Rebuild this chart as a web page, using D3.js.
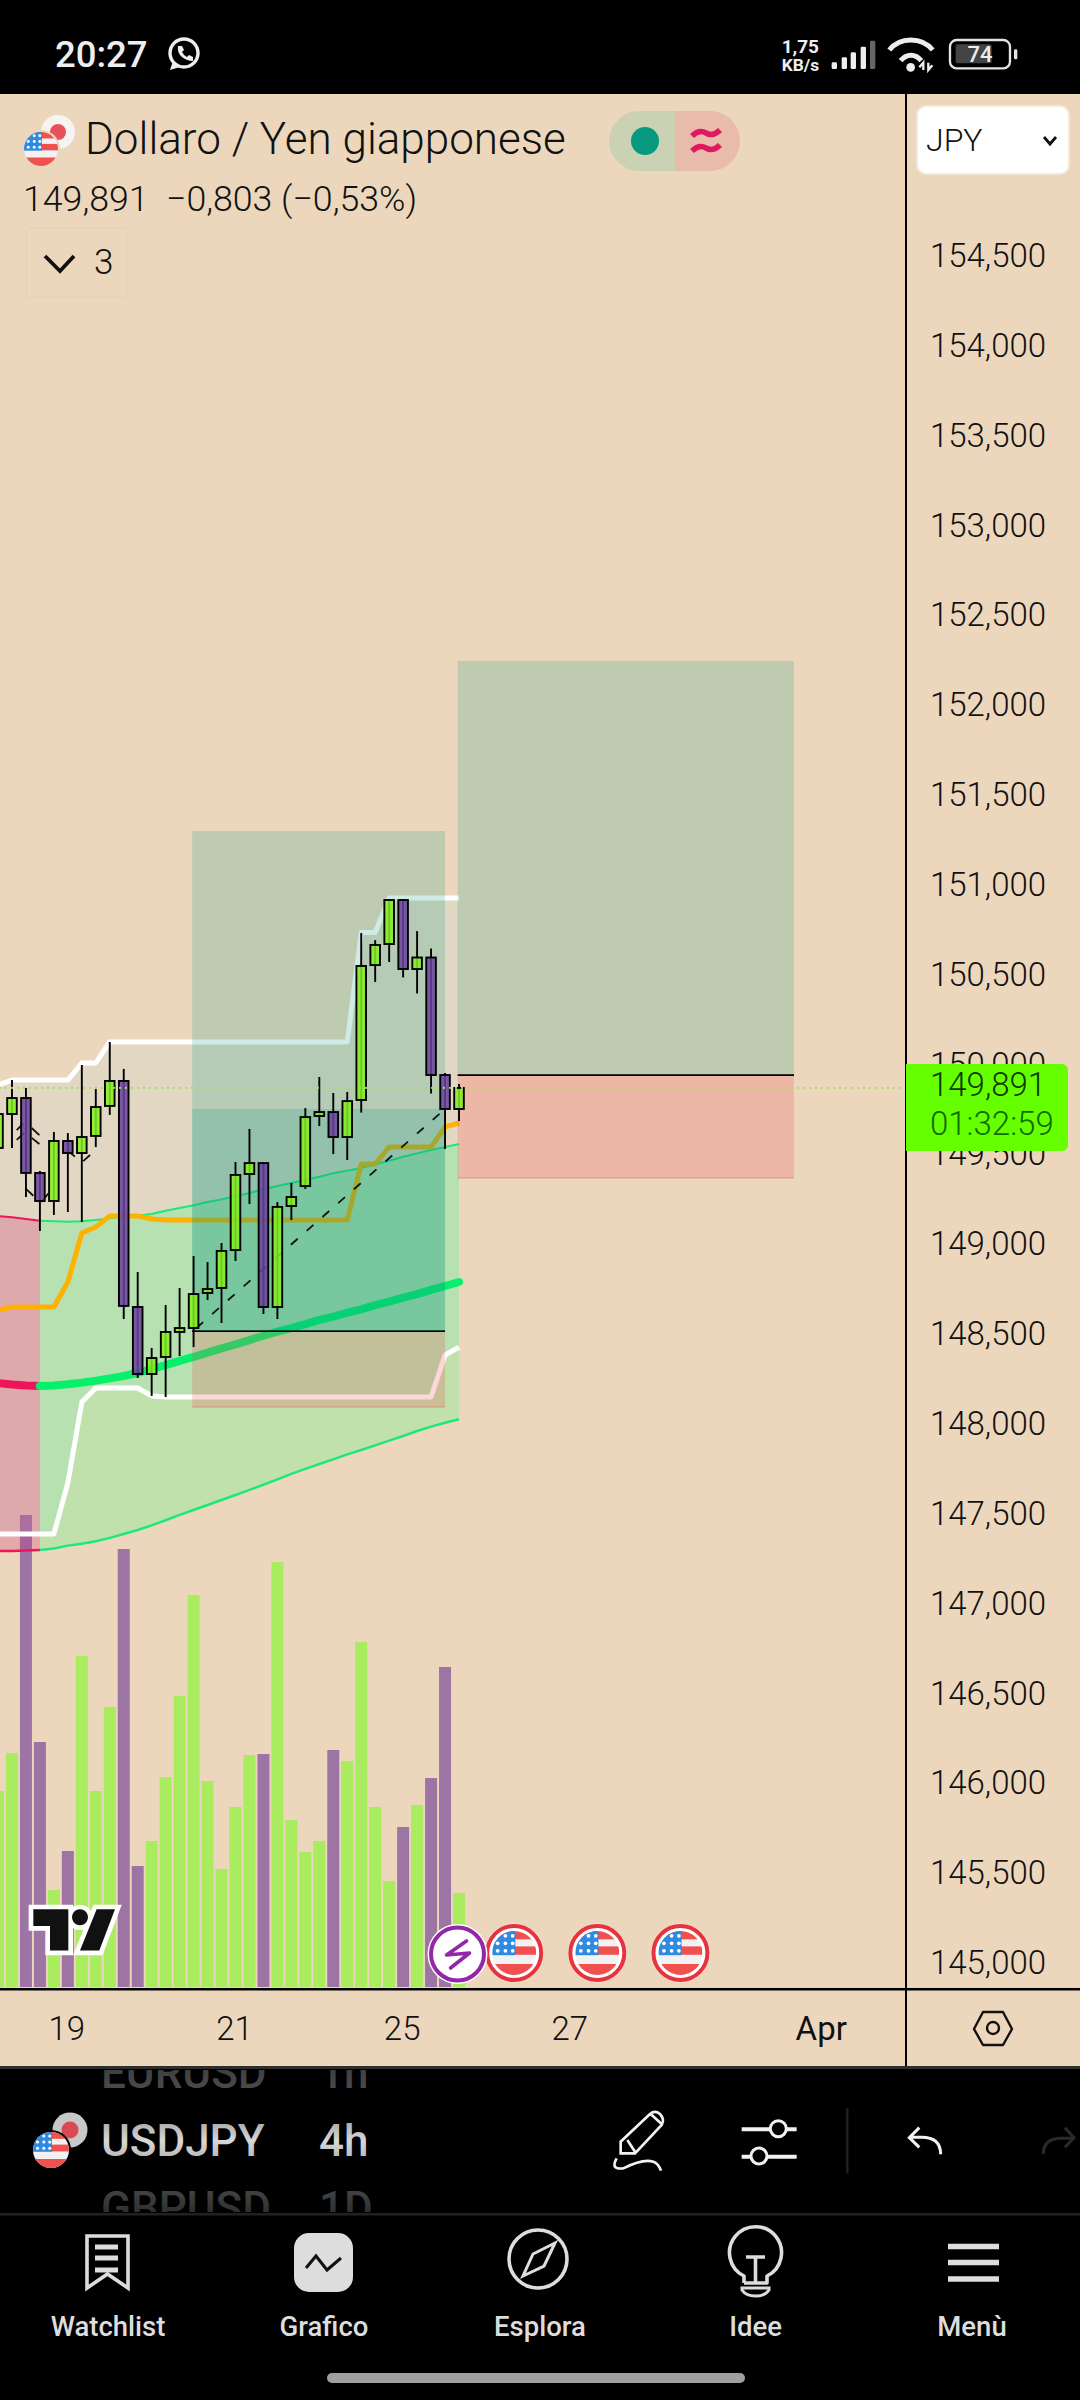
<!DOCTYPE html>
<html>
<head>
<meta charset="utf-8">
<script src="https://cdn.jsdelivr.net/npm/d3@7"></script>
<style>
  html, body { margin: 0; padding: 0; background: #000; }
  svg { display: block; font-family: Roboto, sans-serif; }
</style>
</head>
<body>
<div id="chart"></div>
<script>
// 4h bars
const opens = [149.557,149.746,149.835,149.418,149.262,149.596,149.529,149.624,149.791,149.930,148.672,148.299,148.394,148.533,148.555,148.750,148.778,148.989,149.412,149.473,148.672,149.234,149.345,149.735,149.757,149.618,149.824,150.575,150.692,150.937,150.553,150.617,149.963,149.774];
const highs = [149.891,149.935,149.891,149.429,149.646,149.640,150.019,149.885,150.147,149.997,148.867,148.444,148.683,148.778,148.956,148.922,149.028,149.479,149.663,149.473,149.256,149.362,149.779,149.952,149.863,149.869,150.753,150.714,150.942,150.937,150.764,150.667,149.974,149.913];
const lows = [149.535,149.557,149.284,149.095,149.184,149.201,149.145,149.562,149.741,148.605,148.277,148.177,148.171,148.399,148.449,148.711,148.583,148.928,149.245,148.633,148.605,149.156,149.329,149.679,149.523,149.490,149.754,150.481,150.592,150.506,150.417,149.860,149.551,149.707];
const closes = [149.746,149.835,149.418,149.262,149.596,149.529,149.618,149.785,149.930,148.678,148.299,148.388,148.533,148.555,148.744,148.772,148.984,149.407,149.473,148.672,149.229,149.284,149.729,149.757,149.618,149.818,150.570,150.687,150.937,150.553,150.617,149.963,149.774,149.891];
const volumes = [196,234,472,245,97,136,331,196,280,438,121,146,210,291,392,206,118,180,232,233,425,167,135,146,237,226,345,180,106,160,182,209,320,94];

// indicators
const channelUpper = [149.907,149.935,149.935,149.935,149.935,149.935,150.030,150.030,150.147,150.147,150.147,150.147,150.147,150.147,150.147,150.147,150.147,150.147,150.147,150.147,150.147,150.147,150.147,150.147,150.147,150.147,150.756,150.756,150.948,150.948,150.948,150.948,150.948,150.948];
const channelLower = [147.409,147.409,147.409,147.409,147.409,147.693,148.143,148.221,148.221,148.221,148.221,148.177,148.171,148.171,148.171,148.171,148.171,148.171,148.171,148.171,148.171,148.171,148.171,148.171,148.171,148.171,148.171,148.171,148.171,148.171,148.171,148.171,148.405,148.449];
const orangeLine = [148.655,148.672,148.672,148.672,148.672,148.811,149.084,149.117,149.179,149.179,149.179,149.162,149.156,149.156,149.156,149.156,149.156,149.156,149.156,149.156,149.156,149.156,149.156,149.156,149.156,149.156,149.468,149.468,149.562,149.562,149.562,149.562,149.674,149.696];
const maLine = [148.249,148.241,148.235,148.232,148.235,148.242,148.251,148.262,148.275,148.288,148.306,148.327,148.349,148.372,148.394,148.418,148.442,148.464,148.488,148.512,148.535,148.554,148.577,148.600,148.618,148.640,148.659,148.682,148.702,148.724,148.744,148.767,148.789,148.811];
const bandUpper = [149.178,149.171,149.162,149.152,149.149,149.147,149.149,149.156,149.166,149.175,149.180,149.190,149.208,149.223,149.238,149.256,149.271,149.288,149.306,149.327,149.345,149.362,149.379,149.397,149.416,149.431,149.446,149.466,149.486,149.508,149.527,149.546,149.562,149.579];
const bandLower = [147.314,147.314,147.317,147.320,147.328,147.344,147.355,147.368,147.387,147.409,147.431,147.457,147.485,147.515,147.542,147.570,147.598,147.626,147.654,147.683,147.713,147.743,147.771,147.798,147.824,147.852,147.876,147.902,147.928,147.954,147.982,148.006,148.028,148.047];
const trendFlipBar = 3;

// drawings: long positions [left bar, right bar, target, entry, stop]
const positions = [
  [13.9, 32.0, 151.321, 148.538, 148.116],
  [32.9, 56.98, 152.267, 149.963, 149.390]
];
const innerTarget = [13.9, 32.0, 149.774, 148.538];
const diagonal = [[14.2, 148.555], [32.0, 149.774]];
const lastPrice = 149.891;
// little arrows and dashes of the old drawing on the left [bar, price, bar, price]
const oldMarks = [
  [1.34,149.657,1.81,149.694],[1.34,149.602,1.86,149.640],[2.41,149.668,2.96,149.629],[2.41,149.613,2.96,149.579],
  [2.0,149.329,2.53,149.291],[3.13,149.257,3.6,149.304],[4.92,149.546,5.51,149.509],[6.1,149.484,6.59,149.518]
];

// axes
const priceTicks = [145,145.5,146,146.5,147,147.5,148,148.5,149,149.5,150,150.5,151,151.5,152,152.5,153,153.5,154,154.5];
const timeTicks = [5, 17, 29, 41, 59];
const timeLabels = ['19', '21', '25', '27', 'Apr'];
const eventBars = [36.95, 42.9, 48.85];
const flashBar = 33;

const C = {
  bg: '#ecd7bc', up: '#84f020', down: '#6a429c', volUp: '#a9ec5f', volDown: '#9c75a5',
  orange: '#ffb100', maUp: '#07f06c', maDown: '#f0145a', thinUp: '#1ee87a'
};

const svg = d3.select('#chart').append('svg').attr('width', 1080).attr('height', 2400);
const defs = svg.append('defs');

const x = d3.scaleLinear().domain([0, 60]).range([-2, 836.2]);
const y = d3.scaleLinear().domain([145, 154.5]).range([1966.8, 259.8]);
const vol = d3.scaleLinear().domain([0, 472]).range([1987, 1515]);
const bars = d3.range(closes.length);

svg.append('rect').attr('width', 1080).attr('height', 2400).attr('fill', '#000');
svg.append('rect').attr('y', 94).attr('width', 1080).attr('height', 1972).attr('fill', C.bg);

defs.append('clipPath').attr('id', 'plot').append('rect').attr('y', 94).attr('width', 906).attr('height', 1895);
const plot = svg.append('g').attr('clip-path', 'url(#plot)');

// volume
plot.selectAll('.vol').data(bars).join('rect')
  .attr('x', i => x(i) - 6).attr('width', 12)
  .attr('y', i => vol(volumes[i])).attr('height', i => vol(0) - vol(volumes[i]))
  .attr('fill', i => closes[i] >= opens[i] ? C.volUp : C.volDown);

// fills
const channelArea = d3.area().x(i => x(i)).y0(i => y(channelUpper[i])).y1(i => y(channelLower[i]));
plot.append('path').attr('d', channelArea(bars)).attr('fill', 'rgb(169,215,235)').attr('fill-opacity', 0.16);
const bandArea = d3.area().x(i => x(i)).y0(i => y(bandUpper[i])).y1(i => y(bandLower[i]));
plot.append('path').attr('d', bandArea(bars.slice(0, trendFlipBar + 1))).attr('fill', 'rgb(212,44,116)').attr('fill-opacity', 0.27);
plot.append('path').attr('d', bandArea(bars.slice(trendFlipBar))).attr('fill', 'rgb(60,255,124)').attr('fill-opacity', 0.25);

function drawLine(values, from, to, color, width, cap) {
  const line = d3.line().x(i => x(i)).y(i => y(values[i]));
  plot.append('path').attr('d', line(bars.slice(from, to + 1)))
    .attr('fill', 'none').attr('stroke', color).attr('stroke-width', width)
    .attr('stroke-linejoin', 'round').attr('stroke-linecap', cap || 'butt');
}
const last = bars.length - 1;
drawLine(channelUpper, 0, last, '#fff', 5);
drawLine(channelLower, 0, last, '#fff', 5);
drawLine(bandUpper, 0, trendFlipBar, C.maDown, 2);
drawLine(bandUpper, trendFlipBar, last, C.thinUp, 2);
drawLine(bandLower, 0, trendFlipBar, C.maDown, 2.5);
drawLine(bandLower, trendFlipBar, last, C.thinUp, 2.5);
drawLine(orangeLine, 0, last, C.orange, 5);
drawLine(maLine, 0, trendFlipBar, C.maDown, 8);
drawLine(maLine, trendFlipBar, last, C.maUp, 8, 'round');

// position tools tint the lines but stay under the candles
positions.forEach(p => {
  const left = x(p[0]), w = x(p[1]) - left;
  plot.append('rect').attr('x', left).attr('width', w).attr('y', y(p[2])).attr('height', y(p[3]) - y(p[2]))
    .attr('fill', 'rgb(8,153,129)').attr('fill-opacity', 0.2);
  plot.append('rect').attr('x', left).attr('width', w).attr('y', y(p[3])).attr('height', y(p[4]) - y(p[3]))
    .attr('fill', 'rgb(242,54,69)').attr('fill-opacity', 0.2);
  plot.append('line').attr('x1', left).attr('x2', left + w).attr('y1', y(p[4])).attr('y2', y(p[4]))
    .attr('stroke', 'rgb(242,54,69)').attr('stroke-opacity', 0.25).attr('stroke-width', 1.5);
  plot.append('line').attr('x1', left).attr('x2', left + w).attr('y1', y(p[3])).attr('y2', y(p[3]))
    .attr('stroke', '#000').attr('stroke-width', 1.8);
});
plot.append('rect').attr('x', x(innerTarget[0])).attr('width', x(innerTarget[1]) - x(innerTarget[0]))
  .attr('y', y(innerTarget[2])).attr('height', y(innerTarget[3]) - y(innerTarget[2]))
  .attr('fill', 'rgb(8,153,129)').attr('fill-opacity', 0.2);

// dashed drawing under the candles
plot.selectAll('.old').data(oldMarks).join('line')
  .attr('x1', d => x(d[0])).attr('y1', d => y(d[1])).attr('x2', d => x(d[2])).attr('y2', d => y(d[3]))
  .attr('stroke', '#111').attr('stroke-width', 1.8);
plot.append('line')
  .attr('x1', x(diagonal[0][0])).attr('y1', y(diagonal[0][1]))
  .attr('x2', x(diagonal[1][0])).attr('y2', y(diagonal[1][1]))
  .attr('stroke', '#111').attr('stroke-width', 1.8).attr('stroke-dasharray', '9 12');

// candles
plot.selectAll('.wick').data(bars).join('line')
  .attr('x1', i => x(i)).attr('x2', i => x(i))
  .attr('y1', i => y(highs[i])).attr('y2', i => y(lows[i]))
  .attr('stroke', '#000').attr('stroke-width', 1.9);
plot.selectAll('.body').data(bars).join('rect')
  .attr('x', i => x(i) - 4.8).attr('width', 9.6)
  .attr('y', i => y(Math.max(opens[i], closes[i])))
  .attr('height', i => Math.abs(y(opens[i]) - y(closes[i])))
  .attr('fill', i => closes[i] >= opens[i] ? C.up : C.down)
  .attr('fill-opacity', 0.85)
  .attr('stroke', '#000').attr('stroke-width', 1.9);

// last price line
plot.append('line').attr('x1', 0).attr('x2', 903).attr('y1', y(lastPrice)).attr('y2', y(lastPrice))
  .attr('stroke', '#a3e05c').attr('stroke-width', 2.2).attr('stroke-linecap', 'round').attr('stroke-dasharray', '0 6');

// tv logo
const logo = plot.append('g').attr('transform', 'translate(0,1520) scale(0.3333)');
logo.append('path').attr('d', 'M100 1168H205V1292H150V1218H100ZM290 1168H345L298 1292H240Z M240 1168 a24 24 0 1 0 .01 0Z')
  .attr('fill', '#111').attr('stroke', '#fff').attr('stroke-width', 28).attr('paint-order', 'stroke').attr('stroke-linejoin', 'miter');

function usFlag(g, id, cx, cy, r) {
  defs.append('clipPath').attr('id', id).append('circle').attr('cx', cx).attr('cy', cy).attr('r', r);
  const f = g.append('g').attr('clip-path', 'url(#' + id + ')');
  f.append('rect').attr('x', cx - r).attr('y', cy - r).attr('width', 2 * r).attr('height', 2 * r).attr('fill', '#f2f2f2');
  f.append('rect').attr('x', cx - r).attr('y', cy - r).attr('width', 2 * r).attr('height', 0.38 * r).attr('fill', '#f0514f');
  f.append('rect').attr('x', cx).attr('y', cy - 0.3 * r).attr('width', r).attr('height', 0.38 * r).attr('fill', '#f0514f');
  f.append('rect').attr('x', cx - r).attr('y', cy + 0.5 * r).attr('width', 2 * r).attr('height', 0.6 * r).attr('fill', '#f0514f');
  f.append('rect').attr('x', cx - r).attr('y', cy - r).attr('width', r * 1.05).attr('height', r * 1.1).attr('fill', '#2f8ae0');
  [-0.78, -0.44, -0.1].forEach(dy => [-0.75, -0.4, -0.07].forEach(dx => {
    f.append('circle').attr('cx', cx + dx * r).attr('cy', cy + dy * r).attr('r', r * 0.085).attr('fill', '#fff');
  }));
}

// event markers
eventBars.forEach((b, k) => {
  const cx = x(b), cy = 1953;
  const g = plot.append('g');
  g.append('circle').attr('cx', cx).attr('cy', cy).attr('r', 29.5).attr('fill', '#f7eee0');
  g.append('circle').attr('cx', cx).attr('cy', cy).attr('r', 27).attr('fill', '#fff').attr('stroke', '#e8333f').attr('stroke-width', 4);
  usFlag(g, 'ev' + k, cx, cy, 22);
});
const fx = x(flashBar) - 1.5, flash = plot.append('g').attr('transform', 'translate(' + fx + ',1954)');
flash.append('circle').attr('r', 30).attr('fill', '#fff');
flash.append('circle').attr('r', 26.5).attr('fill', '#fff').attr('stroke', '#9427a8').attr('stroke-width', 4);
flash.append('path').attr('d', 'M9 -13L-11 1L12 -1L-7 14').attr('fill', 'none').attr('stroke', '#9427a8').attr('stroke-width', 3.6).attr('stroke-linejoin', 'round').attr('stroke-linecap', 'round');

// price axis
const fmt = d3.format('.3f');
const yAxis = svg.append('g').attr('transform', 'translate(988,0)')
  .call(d3.axisRight(y).tickValues(priceTicks).tickSize(0).tickFormat(d => fmt(d).replace('.', ',')));
yAxis.select('.domain').remove();
yAxis.selectAll('text').attr('x', 0).attr('y', -3.8).attr('text-anchor', 'middle')
  .attr('font-family', 'Roboto').attr('font-size', 33).attr('font-weight', 300).attr('fill', '#111');

// time axis
const xAxis = svg.append('g').attr('transform', 'translate(-1.5,2028)')
  .call(d3.axisBottom(x).tickValues(timeTicks).tickSize(0).tickFormat((d, i) => timeLabels[i]));
xAxis.select('.domain').remove();
xAxis.selectAll('text').attr('y', 0).attr('dy', '0.36em')
  .attr('font-family', 'Roboto').attr('font-size', 33).attr('font-weight', d => d === 59 ? 400 : 300).attr('fill', '#111');

// frame lines
svg.append('rect').attr('x', 905).attr('y', 94).attr('width', 2).attr('height', 1972).attr('fill', '#000');
svg.append('rect').attr('y', 1988).attr('width', 1080).attr('height', 2.5).attr('fill', '#000');
svg.append('rect').attr('y', 2066).attr('width', 1080).attr('height', 3).attr('fill', '#2e2e2e');
svg.append('rect').attr('y', 2213).attr('width', 1080).attr('height', 2.5).attr('fill', '#222');

// price tag
const tag = svg.append('g');
tag.append('path').attr('d', 'M906 1064H1062a6 6 0 0 1 6 6V1145a6 6 0 0 1 -6 6H906Z').attr('fill', '#66ff00');
tag.append('text').attr('x', 930).attr('y', 1096).attr('font-size', 33).attr('font-weight', 300).attr('fill', '#0c3a00').text('149,891');
tag.append('text').attr('x', 930).attr('y', 1135).attr('font-size', 33).attr('font-weight', 300).attr('fill', '#0f6b00').text('01:32:59');

// header
svg.append('text').attr('x', 85).attr('y', 154).attr('font-size', 44).attr('font-weight', 300).attr('fill', '#111').text('Dollaro / Yen giapponese');
svg.append('text').attr('x', 23).attr('y', 211).attr('font-size', 35.7).attr('font-weight', 300).attr('fill', '#111').attr('xml:space', 'preserve').text('149,891  −0,803 (−0,53%)');
svg.append('circle').attr('cx', 58).attr('cy', 132).attr('r', 17).attr('fill', '#f6f4f2');
svg.append('circle').attr('cx', 58).attr('cy', 132).attr('r', 8).attr('fill', '#e8505b');
svg.append('circle').attr('cx', 41).attr('cy', 149).attr('r', 19).attr('fill', C.bg);
usFlag(svg, 'hdr', 41, 149, 17);

svg.append('path').attr('d', 'M619 111H675V171H639a30 30 0 0 1 -20 -8a30 30 0 0 1 -10 -22a30 30 0 0 1 10 -22a30 30 0 0 1 20 -8Z').attr('fill', '#cbd2b4');
svg.append('path').attr('d', 'M675 111H710a30 30 0 0 1 30 30a30 30 0 0 1 -30 30H675Z').attr('fill', '#e8bbab');
svg.append('circle').attr('cx', 645).attr('cy', 141).attr('r', 14).attr('fill', '#089981');
svg.append('path').attr('d', 'M692 136q7 -7 14 -3t14 -3M692 151q7 -7 14 -3t14 -3').attr('fill', 'none').attr('stroke', '#e0185f').attr('stroke-width', 5.5);

svg.append('rect').attr('x', 26).attr('y', 228).attr('width', 101).attr('height', 69).attr('rx', 4).attr('fill', 'none').attr('stroke', '#e6d4ba').attr('stroke-width', 2);
svg.append('path').attr('d', 'M45 256L60 271L74 256').attr('fill', 'none').attr('stroke', '#111').attr('stroke-width', 3.8);
svg.append('text').attr('x', 94).attr('y', 274).attr('font-size', 35).attr('font-weight', 300).attr('fill', '#111').text('3');

svg.append('rect').attr('x', 917).attr('y', 106).attr('width', 152).attr('height', 68).attr('rx', 9).attr('fill', '#fff').attr('stroke', '#f4e8d8').attr('stroke-width', 2);
svg.append('text').attr('x', 926).attr('y', 151).attr('font-size', 32).attr('font-weight', 300).attr('fill', '#111').text('JPY');
svg.append('path').attr('d', 'M1044 137L1050 144L1056 137').attr('fill', 'none').attr('stroke', '#111').attr('stroke-width', 2.8);

// hex button
svg.append('path').attr('d', 'M974 2029L983 2012H1003L1012 2029L1003 2045H983Z').attr('fill', 'none').attr('stroke', '#111').attr('stroke-width', 2.4).attr('stroke-linejoin', 'round');
svg.append('circle').attr('cx', 993).attr('cy', 2028).attr('r', 6).attr('fill', 'none').attr('stroke', '#111').attr('stroke-width', 2.4);

// status bar
svg.append('text').attr('x', 55).attr('y', 67).attr('font-size', 36.5).attr('font-weight', 500).attr('fill', '#eee').text('20:27');
svg.append('circle').attr('cx', 184).attr('cy', 53).attr('r', 14).attr('fill', 'none').attr('stroke', '#eee').attr('stroke-width', 3.4);
svg.append('path').attr('d', 'M170 70l3 -9l7 6Z').attr('fill', '#eee');
svg.append('path').attr('d', 'M178 46q-1 7 4 11t11 4l0 -4l-4 -2l-2 2q-3 -1 -5 -5l2 -2l-2 -4Z').attr('fill', '#eee');

const status = svg.append('g').attr('transform', 'translate(760,20) scale(0.3333)');
status.append('text').attr('x', 65).attr('y', 98).attr('font-size', 57).attr('font-weight', 700).attr('fill', '#eee').text('1,75');
status.append('text').attr('x', 65).attr('y', 152).attr('font-size', 52).attr('font-weight', 700).attr('fill', '#eee').text('KB/s');
[[215,127],[245,112],[272,97],[302,80],[330,62]].forEach((b, i) => {
  status.append('rect').attr('x', b[0]).attr('y', b[1]).attr('width', 16).attr('height', 147 - b[1]).attr('rx', 4).attr('fill', i === 4 ? '#666' : '#eee');
});
status.append('path').attr('d', 'M388 90C420 50 485 50 518 90M422 122C440 100 466 100 484 122').attr('fill', 'none').attr('stroke', '#eee').attr('stroke-width', 15);
status.append('circle').attr('cx', 452).attr('cy', 142).attr('r', 13).attr('fill', '#eee');
status.append('path').attr('d', 'M490 150V128l-12 14M505 128v22l12 -14').attr('fill', 'none').attr('stroke', '#eee').attr('stroke-width', 7);
status.append('rect').attr('x', 570).attr('y', 60).attr('width', 180).attr('height', 85).attr('rx', 20).attr('fill', 'none').attr('stroke', '#e4e4e4').attr('stroke-width', 7);
status.append('rect').attr('x', 587).attr('y', 73).attr('width', 108).attr('height', 57).attr('rx', 6).attr('fill', '#444');
status.append('text').attr('x', 660).attr('y', 127).attr('text-anchor', 'middle').attr('font-size', 66).attr('font-weight', 500).attr('fill', '#eee').text('74');
status.append('rect').attr('x', 762).attr('y', 88).attr('width', 10).attr('height', 30).attr('rx', 4).attr('fill', '#e4e4e4');

// symbol picker
const mainGrad = defs.append('linearGradient').attr('id', 'mainGrad').attr('x1', 0).attr('y1', 0).attr('x2', 0).attr('y2', 1);
mainGrad.append('stop').attr('offset', '0').attr('stop-color', '#9a9a9a');
mainGrad.append('stop').attr('offset', '0.5').attr('stop-color', '#d8d8d8');
mainGrad.append('stop').attr('offset', '1').attr('stop-color', '#a8a8a8');
const sideGrad = defs.append('linearGradient').attr('id', 'sideGrad').attr('x1', 0).attr('y1', 0).attr('x2', 0).attr('y2', 1);
sideGrad.append('stop').attr('offset', '0').attr('stop-color', '#4a4a4a');
sideGrad.append('stop').attr('offset', '0.7').attr('stop-color', '#2a2a2a');
const sideGrad2 = defs.append('linearGradient').attr('id', 'sideGrad2').attr('x1', 0).attr('y1', 0).attr('x2', 0).attr('y2', 1);
sideGrad2.append('stop').attr('offset', '0').attr('stop-color', '#333');
sideGrad2.append('stop').attr('offset', '0.8').attr('stop-color', '#4a4a4a');
defs.append('clipPath').attr('id', 'picker').append('rect').attr('y', 2070).attr('width', 1080).attr('height', 142);
const picker = svg.append('g').attr('clip-path', 'url(#picker)').attr('font-size', 44).attr('font-weight', 500);
picker.append('text').attr('x', 101).attr('y', 2088).attr('fill', 'url(#sideGrad2)').text('EURUSD');
picker.append('text').attr('x', 319).attr('y', 2088).attr('fill', 'url(#sideGrad2)').text('1h');
picker.append('text').attr('x', 101).attr('y', 2156).attr('fill', 'url(#mainGrad)').text('USDJPY');
picker.append('text').attr('x', 319).attr('y', 2156).attr('fill', 'url(#mainGrad)').text('4h');
picker.append('text').attr('x', 101).attr('y', 2223).attr('fill', 'url(#sideGrad)').text('GBPUSD');
picker.append('text').attr('x', 319).attr('y', 2223).attr('fill', 'url(#sideGrad)').text('1D');
svg.append('circle').attr('cx', 70).attr('cy', 2130).attr('r', 17.5).attr('fill', '#c8c8c8');
svg.append('circle').attr('cx', 70).attr('cy', 2130).attr('r', 8.5).attr('fill', '#d84a55');
svg.append('circle').attr('cx', 51).attr('cy', 2150).attr('r', 20).attr('fill', '#000');
usFlag(svg, 'pick', 51, 2150, 18);

// tools
const tools = svg.append('g').attr('transform', 'translate(600,2090) scale(0.3333)').attr('fill', 'none').attr('stroke', '#f2f2f2').attr('stroke-width', 8);
tools.append('path').attr('d', 'M62 190V155L150 72Q165 60 180 72Q195 88 185 105L105 190ZM82 150L105 185M152 72L185 102');
tools.append('path').attr('d', 'M50 205Q30 240 70 235Q130 205 160 215Q175 220 183 242');
tools.append('path').attr('d', 'M425 118H590M425 200H590').attr('stroke-width', 12);
tools.append('circle').attr('cx', 535).attr('cy', 116).attr('r', 24).attr('fill', '#000').attr('stroke-width', 9);
tools.append('circle').attr('cx', 477).attr('cy', 198).attr('r', 24).attr('fill', '#000').attr('stroke-width', 9);
tools.append('path').attr('d', 'M742 55V250').attr('stroke', '#222').attr('stroke-width', 7);
tools.append('path').attr('d', 'M1022 193Q1022 142 965 142H930M958 113L928 143L958 172').attr('stroke-width', 9);
tools.append('path').attr('d', 'M1330 193Q1330 145 1385 145H1420M1395 113L1422 143L1395 172').attr('stroke', '#2a2a2a').attr('stroke-width', 9);

// bottom navigation
const navNames = ['Watchlist', 'Grafico', 'Esplora', 'Idee', 'Menù'];
const navX = [108, 324, 540, 755.5, 972];
svg.selectAll('.nav').data(navNames).join('text')
  .attr('x', (d, i) => navX[i]).attr('y', 2336).attr('text-anchor', 'middle')
  .attr('font-size', 27.5).attr('font-weight', 500).attr('fill', '#ddd').text(d => d);

const nav = svg.append('g').attr('fill', 'none').attr('stroke', '#ddd').attr('stroke-width', 3.6);
nav.append('path').attr('d', 'M87 2236H128V2288L107.5 2274L87 2288Z');
nav.append('path').attr('d', 'M95 2247H118M95 2258H118M95 2270H118').attr('stroke-width', 5);
nav.append('rect').attr('x', 294).attr('y', 2233).attr('width', 59).attr('height', 59).attr('rx', 15).attr('fill', '#ddd').attr('stroke', 'none');
nav.append('path').attr('d', 'M306 2268L316 2256L327 2270L341 2258').attr('stroke', '#111').attr('stroke-width', 3);
nav.append('circle').attr('cx', 538).attr('cy', 2259).attr('r', 29);
nav.append('path').attr('d', 'M555 2243L544 2266L523 2276L533 2254Z').attr('stroke-width', 3);
nav.append('path').attr('d', 'M744 2283V2276A26 26 0 1 1 767 2276V2283H744M746 2257H765M755.5 2257V2283').attr('stroke-linejoin', 'round');
nav.append('path').attr('d', 'M742 2288H769V2290Q765 2296 755.5 2296Q746 2296 742 2290Z').attr('stroke-width', 3);
nav.append('path').attr('d', 'M948 2246.5H999M948 2262.5H999M948 2279H999').attr('stroke-width', 5.5);

svg.append('rect').attr('x', 327).attr('y', 2373).attr('width', 418).attr('height', 10).attr('rx', 5).attr('fill', '#a0a0a0');
</script>
</body>
</html>
